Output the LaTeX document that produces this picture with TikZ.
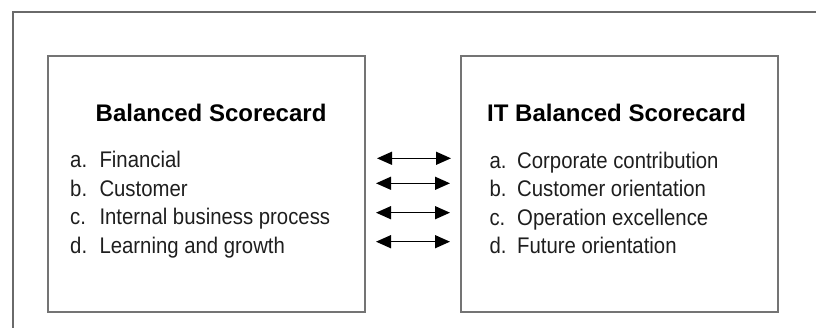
\documentclass[tikz,border=0pt]{standalone}
\usepackage{fontspec}
\setmainfont{Liberation Sans}
\newfontfamily\itemfont{Liberation Sans}[FakeStretch=0.9]
\usetikzlibrary{arrows.meta}
\definecolor{framegray}{HTML}{6A6A6A}
\definecolor{boxgray}{HTML}{747474}
\definecolor{txt}{HTML}{1E1E1E}
\tikzset{
  x=1pt, y=-1pt,
  panel/.style={draw=boxgray, line width=1.6pt, minimum width=317pt, minimum height=256pt, inner sep=0pt},
  ttl/.style={anchor=base west, inner sep=0pt, font=\fontsize{24}{28}\selectfont\bfseries, text=black},
  lbl/.style={anchor=base west, inner sep=0pt, font=\itemfont\fontsize{22.6}{28}\selectfont, text=txt},
  biarrow/.style={line width=1.3pt, {Triangle[length=15pt,width=13pt]}-{Triangle[length=15pt,width=13pt]}}
}
\begin{document}
\begin{tikzpicture}
\useasboundingbox (0,0) rectangle (816,328);
% outer frame (partly visible)
\coordinate (fbl) at (12.7,330);
\coordinate (ftl) at (12.7,11.7);
\coordinate (ftr) at (818,11.7);
\draw[framegray, line width=2.3pt] (fbl) -- (ftl) -- (ftr);
% panels
\node[panel] (L) at (206.5,184) {};
\node[panel] (R) at (619.5,184) {};
% titles
\node[ttl] (Lt) at (95.5,121.7) {Balanced Scorecard};
\node[ttl] (Rt) at (487,121.7) {IT Balanced Scorecard};
% left items
\node[lbl] (La) at (70,167.7) {a.};
\node[lbl] (Lat) at (99.3,167.7) {Financial};
\node[lbl] (Lb) at (70,196.7) {b.};
\node[lbl] (Lbt) at (99.3,196.7) {Customer};
\node[lbl] (Lc) at (70,225) {c.};
\node[lbl] (Lct) at (99.3,225) {Internal business process};
\node[lbl] (Ld) at (70,253.3) {d.};
\node[lbl] (Ldt) at (99.3,253.3) {Learning and growth};
% right items
\node[lbl] (Ra) at (489.3,168.3) {a.};
\node[lbl] (Rat) at (517,168.3) {Corporate contribution};
\node[lbl] (Rb) at (489.3,196.9) {b.};
\node[lbl] (Rbt) at (517,196.9) {Customer orientation};
\node[lbl] (Rc) at (489.3,225.3) {c.};
\node[lbl] (Rct) at (517,225.3) {Operation excellence};
\node[lbl] (Rd) at (489.3,253.6) {d.};
\node[lbl] (Rdt) at (517,253.6) {Future orientation};
% arrows
\coordinate (a1l) at (377,158.3); \coordinate (a1r) at (451,158.3);
\coordinate (a2l) at (376,183.3); \coordinate (a2r) at (450,183.3);
\coordinate (a3l) at (376,212.7); \coordinate (a3r) at (450,212.7);
\coordinate (a4l) at (376,241.7); \coordinate (a4r) at (450,241.7);
\draw[biarrow] (a1l) -- (a1r);
\draw[biarrow] (a2l) -- (a2r);
\draw[biarrow] (a3l) -- (a3r);
\draw[biarrow] (a4l) -- (a4r);
\end{tikzpicture}
\end{document}
